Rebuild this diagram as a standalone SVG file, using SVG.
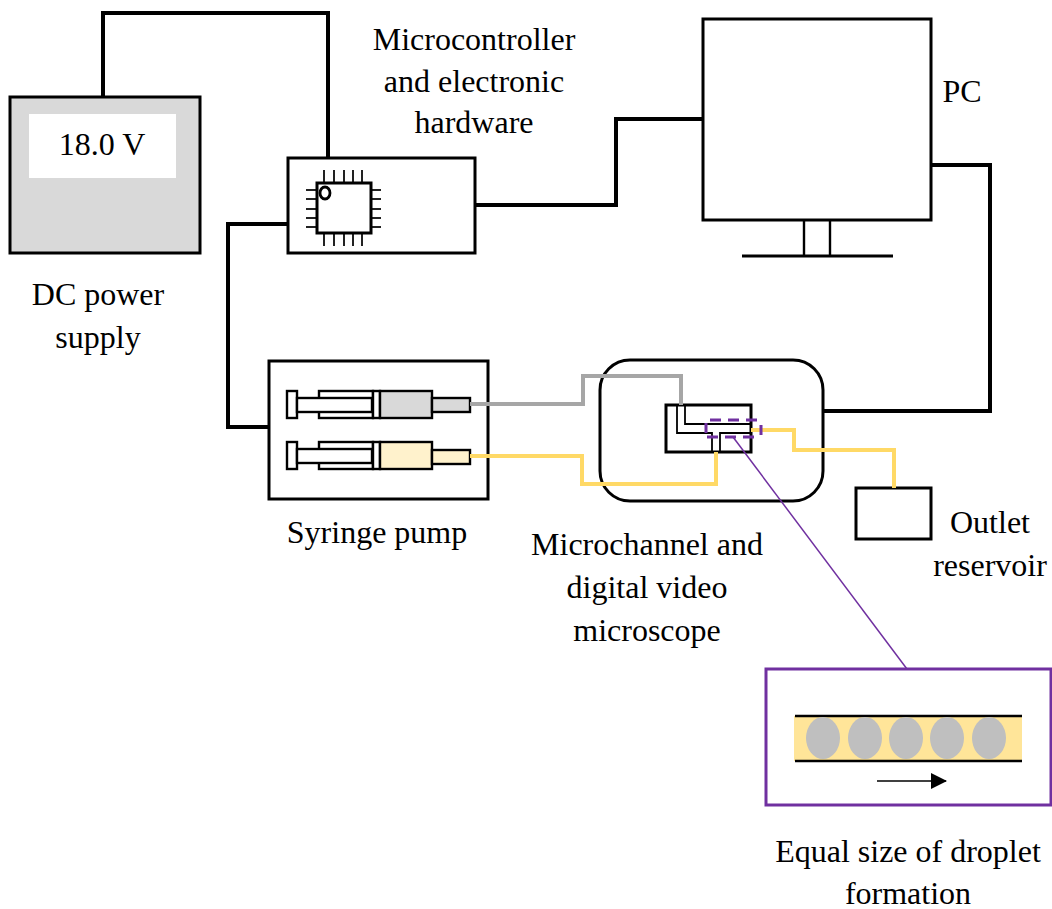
<svg xmlns="http://www.w3.org/2000/svg" width="1052" height="909" viewBox="0 0 1052 909">
<defs>
<style>
text{font-family:"Liberation Serif","Times New Roman",serif;font-size:32px;fill:#000;text-anchor:middle}
.b{fill:#fff;stroke:#000;stroke-width:3}
.s{fill:#fff;stroke:#000;stroke-width:2.4}
.w{fill:none;stroke:#000;stroke-width:4}
.g{fill:none;stroke:#a6a6a6;stroke-width:4}
.y{fill:none;stroke:#ffd966;stroke-width:4}
.t{fill:none;stroke:#000;stroke-width:1.8}
.p{fill:none;stroke:#7030a0;stroke-width:1.5}
.d{fill:none;stroke:#7030a0;stroke-width:3;stroke-dasharray:11 7}
.e{fill:none;stroke:#7030a0;stroke-width:3}
.pin{stroke:#222;stroke-width:2}
</style>
<marker id="ah" markerUnits="userSpaceOnUse" markerWidth="16" markerHeight="16" refX="15" refY="8" orient="auto"><path d="M0 0L16 8L0 16Z" fill="#000"/></marker>
</defs>
<rect width="1052" height="909" fill="#fff"/>
<g id="power-supply">
<rect x="10" y="97" width="190" height="156" fill="#d9d9d9" stroke="#000" stroke-width="3"/>
<rect x="29" y="114" width="147" height="64" fill="#fff"/>
<text x="102" y="155">18.0 V</text>
<text x="98" y="305">DC power</text>
<text x="98" y="348">supply</text>
</g>
<g id="microcontroller">
<rect class="b" x="288" y="158" width="187" height="95"/>
<path class="pin" d="M324 170V183M334 170V183M344 170V183M353 170V183M362 170V183M324 233V246M334 233V246M344 233V246M353 233V246M362 233V246M306 190H317M306 199H317M306 209H317M306 218H317M306 227H317M371 190H381M371 199H381M371 209H381M371 218H381M371 227H381"/>
<rect class="b" x="317" y="183" width="54" height="50"/>
<ellipse cx="325" cy="193" rx="5" ry="6" fill="#fff" stroke="#000" stroke-width="2.8"/>
<text x="474" y="50">Microcontroller</text>
<text x="474" y="92">and electronic</text>
<text x="474" y="133">hardware</text>
</g>
<g id="pc">
<rect class="b" x="703" y="19" width="228" height="201"/>
<path d="M804 220V256M830 220V256" stroke="#000" stroke-width="2.4"/>
<path d="M742 256H893" stroke="#000" stroke-width="3"/>
<text x="962" y="102">PC</text>
</g>
<g id="syringe-pump">
<rect class="b" x="269" y="361" width="219" height="138"/>
<g id="syringe-gray">
<rect class="s" x="287" y="391" width="10" height="27"/>
<rect class="s" x="319" y="391" width="54" height="27"/>
<rect class="s" x="297" y="398" width="75" height="14"/>
<rect class="s" x="373" y="391" width="7" height="27"/>
<rect x="380" y="391" width="52" height="27" fill="#d9d9d9" stroke="#000" stroke-width="2.4"/>
<rect x="432" y="398" width="38" height="14" fill="#d9d9d9" stroke="#000" stroke-width="2.4"/>
</g>
<g id="syringe-yellow">
<rect class="s" x="287" y="442" width="10" height="27"/>
<rect class="s" x="319" y="442" width="54" height="27"/>
<rect class="s" x="297" y="449" width="75" height="14"/>
<rect class="s" x="373" y="442" width="7" height="27"/>
<rect x="380" y="442" width="52" height="27" fill="#fff2cc" stroke="#000" stroke-width="2.4"/>
<rect x="432" y="450" width="38" height="14" fill="#fff2cc" stroke="#000" stroke-width="2.4"/>
</g>
<text x="377" y="543">Syringe pump</text>
</g>
<g id="microscope">
<rect x="600" y="360" width="223" height="141" rx="30" fill="none" stroke="#000" stroke-width="3"/>
<rect class="b" x="666" y="405" width="85" height="47"/>
<path class="t" d="M677 405V433H712V452M720 452V433H751M685 405V424H751"/>
<text x="647" y="555">Microchannel and</text>
<text x="647" y="598">digital video</text>
<text x="647" y="641">microscope</text>
</g>
<g id="outlet-reservoir">
<rect class="b" x="856" y="488" width="75" height="51"/>
<text x="990" y="533">Outlet</text>
<text x="990" y="576">reservoir</text>
</g>
<g id="droplet-inset">
<rect x="766" y="669" width="285" height="136" fill="#fff" stroke="#7030a0" stroke-width="3"/>
<rect x="794" y="716" width="228" height="45" fill="#ffe599"/>
<path d="M795 716H1022M795 761H1022" stroke="#000" stroke-width="2.6"/>
<g fill="#bfbfbf"><ellipse cx="823" cy="738" rx="17" ry="21"/><ellipse cx="865" cy="738" rx="17" ry="21"/><ellipse cx="906" cy="738" rx="17" ry="21"/><ellipse cx="947" cy="738" rx="17" ry="21"/><ellipse cx="989" cy="738" rx="17" ry="21"/></g>
<path d="M877 781H946" stroke="#000" stroke-width="1.5" marker-end="url(#ah)"/>
<text x="908" y="862">Equal size of droplet</text>
<text x="908" y="904">formation</text>
</g>
<g id="connectors">
<path class="w" d="M103 97V13H328V158"/>
<path class="w" d="M288 224H228V427H269"/>
<path class="w" d="M476 205H616V119H703"/>
<path class="w" d="M931 165H990V411H823"/>
<path class="g" d="M470 404H583V376H681V405"/>
<path class="y" d="M470 456H582V484H716V452"/>
<path class="y" d="M751 430H794V450H894V488"/>
<path class="d" d="M710 420H758"/>
<path class="d" d="M707 437H756"/>
<path class="e" d="M706 423V433M761 425V435"/>
<path class="p" d="M733 437L907 669"/>
</g>
</svg>
